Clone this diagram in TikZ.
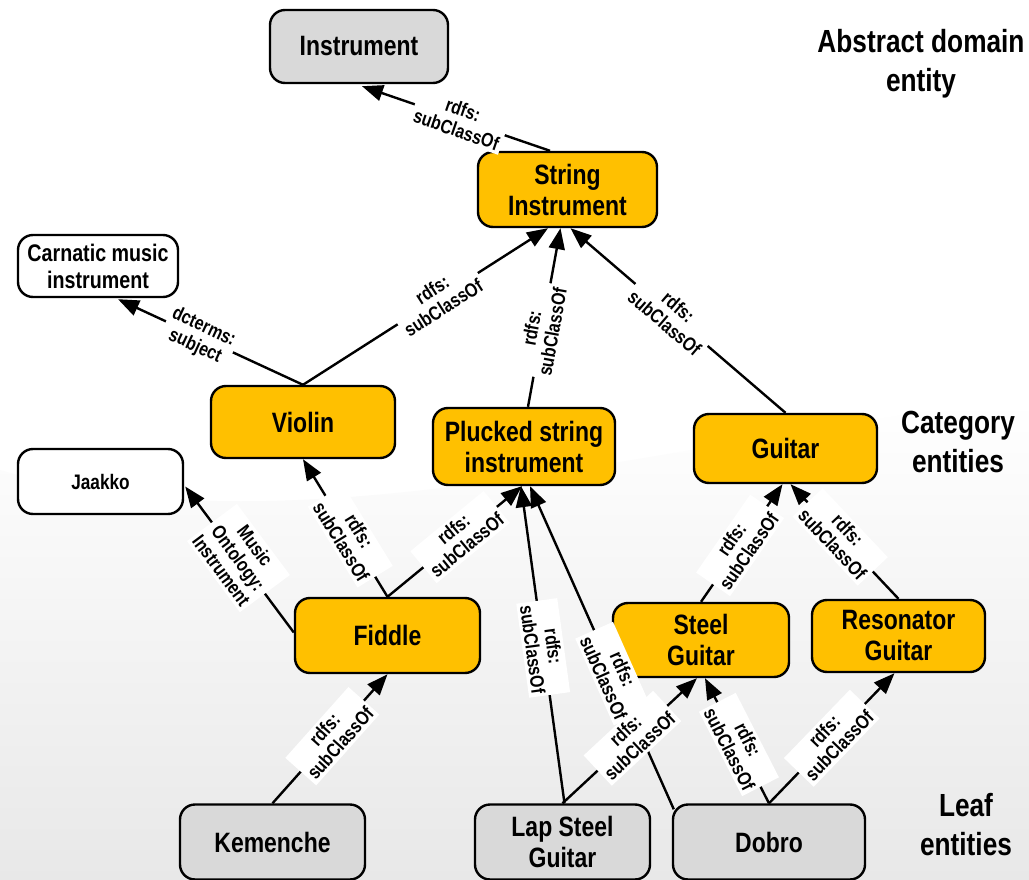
\documentclass[tikz,border=0pt]{standalone}
\usepackage{fontspec}
\setmainfont{Liberation Sans}[FakeStretch=0.82]
\usetikzlibrary{arrows.meta,calc}
\definecolor{catfill}{RGB}{255,192,0}
\definecolor{greyfill}{RGB}{217,217,217}
\begin{document}
\begin{tikzpicture}[x=1pt,y=-1pt,
  box/.style={draw=black, line width=2.4pt, rounded corners=15pt, align=center,
    font=\bfseries\fontsize{28}{31}\selectfont, inner sep=0pt},
  wh/.style 2 args={minimum width=#1pt, minimum height=#2pt},
  catbox/.style={box, fill=catfill},
  greybox/.style={box, fill=greyfill},
  extbox/.style={box, fill=white},
  arr/.style={-{Triangle[length=21pt,width=16pt]}, line width=2.4pt},
  lbl/.style={fill=white, sloped, inner sep=3pt, align=center,
    font=\bfseries\fontsize{19.5}{21}\selectfont},
  side/.style={align=center, font=\bfseries\fontsize{32}{39}\selectfont, inner sep=0pt}]
\useasboundingbox (0,0) rectangle (1029,880);
\fill[white] (0,0) rectangle (1029,880);
\shade[top color=white, bottom color=gray!18]
  (0,470) .. controls (300,560) and (700,430) .. (1029,400) -- (1029,880) -- (0,880) -- cycle;

% nodes
\node[greybox, wh={178}{73}] (instr) at (359,46.5) {Instrument};
\node[catbox, wh={179}{75}] (string) at (567.5,189.5) {String\\Instrument};
\node[extbox, wh={160}{62}, font=\bfseries\fontsize{24}{27}\selectfont] (carn) at (98,266) {Carnatic music\\instrument};
\node[catbox, wh={184}{72}] (violin) at (303,422) {Violin};
\node[catbox, wh={182}{77}] (pluck) at (524,446.5) {Plucked string\\instrument};
\node[catbox, wh={183}{69}] (guitar) at (785.5,448.5) {Guitar};
\node[extbox, wh={165}{65}, font=\bfseries\fontsize{21}{24}\selectfont] (jaakko) at (100.5,481.5) {Jaakko};
\node[catbox, wh={185}{75}] (fiddle) at (387.5,635.5) {Fiddle};
\node[catbox, wh={176}{74}] (steel) at (701,640) {Steel\\Guitar};
\node[catbox, wh={173}{72}] (reson) at (898.5,636) {Resonator\\Guitar};
\node[greybox, wh={185}{75}] (kem) at (272.5,842) {Kemenche};
\node[greybox, wh={175}{75}] (lap) at (562.5,842) {Lap Steel\\Guitar};
\node[greybox, wh={192}{75}] (dobro) at (769,842) {Dobro};

% side texts
\node[side] (t1) at (921,64) {Abstract domain\\entity};
\node[side] (t2) at (958,442) {Category\\entities};
\node[side] (t3) at (966,825) {Leaf\\entities};

% edges
\draw[arr] ($(string.north)+(-17.5,0)$) -- node[lbl,pos=0.48]{rdfs:\\subClassOf} ($(instr.south)+(3,2)$);
\draw[arr] (violin.north) -- node[lbl,pos=0.55]{rdfs:\\subClassOf} ($(string.south)+(-19.5,0)$);
\draw[arr] (violin.north) -- node[lbl,pos=0.56]{dcterms:\\subject} ($(carn.south)+(20,1)$);
\draw[arr] ($(pluck.north)+(4,0)$) -- node[lbl,pos=0.43]{rdfs:\\subClassOf} ($(string.south)+(-7,0)$);
\draw[arr] (guitar.north) -- node[lbl,pos=0.53]{rdfs:\\subClassOf} ($(string.south)+(3,0)$);
\draw[arr] (fiddle.north) -- node[lbl,pos=0.44]{rdfs:\\subClassOf} (violin.south);
\draw[arr] (fiddle.north) -- node[lbl,pos=0.54]{rdfs:\\subClassOf} ($(pluck.south)+(-2,0)$);
\draw[arr] ($(fiddle.west)+(0,-3)$) -- node[lbl,pos=0.51]{Music\\Ontology:\\Instrument} ($(jaakko.east)+(1,5)$);
\draw[arr] (kem.north) -- node[lbl,pos=0.52]{rdfs:\\subClassOf} (fiddle.south);
\draw[arr] ($(lap.north)+(2,0)$) -- node[lbl,pos=0.49]{rdfs:\\subClassOf} ($(pluck.south)+(-3,0)$);
\draw[arr] ($(dobro.north west)+(2,6)$) -- node[lbl,pos=0.42]{rdfs:\\subClassOf} ($(pluck.south)+(6,0)$);
\draw[arr] (lap.north) -- node[lbl,pos=0.52]{rdfs:\\subClassOf} ($(steel.south)+(-4,0)$);
\draw[arr] (dobro.north) -- node[lbl,pos=0.47]{rdfs:\\subClassOf} ($(steel.south)+(4,0)$);
\draw[arr] (dobro.north) -- node[lbl,pos=0.5]{rdfs:\\subClassOf} ($(reson.south)+(-4,0)$);
\draw[arr] (steel.north) -- node[lbl,pos=0.48]{rdfs:\\subClassOf} ($(guitar.south)+(-3,0)$);
\draw[arr] (reson.north) -- node[lbl,pos=0.54]{rdfs:\\subClassOf} ($(guitar.south)+(5,0)$);
\end{tikzpicture}
\end{document}
